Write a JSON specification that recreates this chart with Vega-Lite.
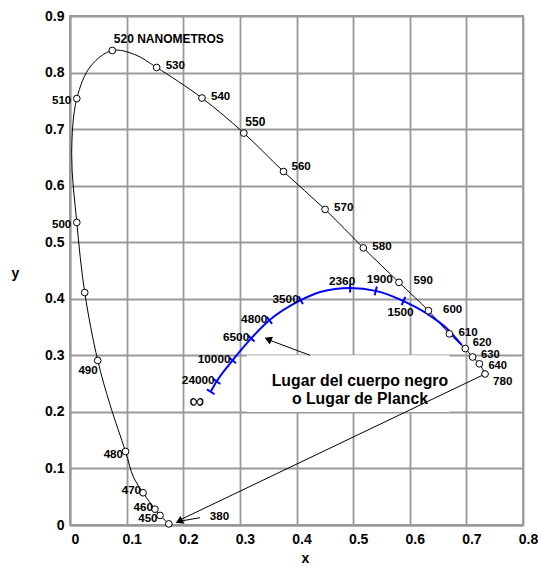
{
  "$schema": "https://vega.github.io/schema/vega-lite/v6.json",
  "width": 453,
  "height": 509,
  "autosize": {"type": "none"},
  "padding": {"left": 70, "top": 16, "right": 15, "bottom": 41},
  "background": "white",
  "config": {
    "font": "Liberation Sans",
    "view": {"stroke": "#999999", "strokeWidth": 1.8},
    "axis": {
      "grid": true, "gridColor": "#9a9a9a", "gridWidth": 1.8, "gridOpacity": 1,
      "domainColor": "#999999", "domainWidth": 1.8,
      "ticks": false, "tickSize": 0,
      "labelFont": "Liberation Sans", "labelFontWeight": "bold", "labelFontSize": 14, "labelColor": "#000000",
      "labelFlush": false, "labelOverlap": false,
      "titleFont": "Liberation Sans", "titleFontWeight": "bold", "titleFontSize": 14, "titleColor": "#000000"
    }
  },
  "datasets": {
    "locus": [
      {"nm": 380, "x": 0.1745, "y": 0.002, "label": "380"},
      {"nm": 450, "x": 0.159, "y": 0.017, "label": "450"},
      {"nm": 460, "x": 0.150, "y": 0.028, "label": "460"},
      {"nm": 470, "x": 0.129, "y": 0.057, "label": "470"},
      {"nm": 475, "x": 0.112, "y": 0.085},
      {"nm": 480, "x": 0.098, "y": 0.130, "label": "480"},
      {"nm": 485, "x": 0.0706, "y": 0.213},
      {"nm": 490, "x": 0.049, "y": 0.291, "label": "490"},
      {"nm": 495, "x": 0.026, "y": 0.411},
      {"nm": 500, "x": 0.012, "y": 0.535, "label": "500"},
      {"nm": 505, "x": 0.003, "y": 0.655},
      {"nm": 510, "x": 0.012, "y": 0.754, "label": "510"},
      {"nm": 515, "x": 0.037, "y": 0.812},
      {"nm": 520, "x": 0.0747, "y": 0.839, "label": "520 NANOMETROS"},
      {"nm": 525, "x": 0.114, "y": 0.832},
      {"nm": 530, "x": 0.153, "y": 0.809, "label": "530"},
      {"nm": 540, "x": 0.233, "y": 0.755, "label": "540"},
      {"nm": 550, "x": 0.307, "y": 0.693, "label": "550"},
      {"nm": 560, "x": 0.377, "y": 0.625, "label": "560"},
      {"nm": 570, "x": 0.4505, "y": 0.558, "label": "570"},
      {"nm": 580, "x": 0.518, "y": 0.490, "label": "580"},
      {"nm": 590, "x": 0.581, "y": 0.429, "label": "590"},
      {"nm": 600, "x": 0.633, "y": 0.379, "label": "600"},
      {"nm": 610, "x": 0.670, "y": 0.338, "label": "610"},
      {"nm": 620, "x": 0.698, "y": 0.312, "label": "620"},
      {"nm": 630, "x": 0.711, "y": 0.297, "label": "630"},
      {"nm": 640, "x": 0.723, "y": 0.285, "label": "640"},
      {"nm": 780, "x": 0.733, "y": 0.267, "label": "780"}
    ],
    "planck": [
      {"T": "∞", "x": 0.2485, "y": 0.2355},
      {"T": "24000", "x": 0.259, "y": 0.254},
      {"T": "10000", "x": 0.287, "y": 0.291},
      {"T": "6500", "x": 0.320, "y": 0.330},
      {"T": "4800", "x": 0.352, "y": 0.362},
      {"T": "3500", "x": 0.4075, "y": 0.3975},
      {"T": null, "x": 0.4417, "y": 0.412},
      {"T": "2360", "x": 0.4947, "y": 0.419},
      {"T": "1900", "x": 0.540, "y": 0.414},
      {"T": "1500", "x": 0.589, "y": 0.396},
      {"T": null, "x": 0.630, "y": 0.374},
      {"T": null, "x": 0.6655, "y": 0.3475},
      {"T": null, "x": 0.692, "y": 0.318}
    ],
    "notebox": [{"x": 0.312, "x2": 0.67, "y": 0.2, "y2": 0.3}],
    "notetext": [{"x": 0.512, "y": 0.255, "text": "Lugar del cuerpo negro\no Lugar de Planck"}],
    "arrows": [
      {"x": 0.733, "y": 0.267, "x2": 0.19, "y2": 0.007},
      {"x": 0.2296, "y": 0.0129, "x2": 0.19, "y2": 0.006},
      {"x": 0.424, "y": 0.300, "x2": 0.352, "y2": 0.327}
    ],
    "heads": [
      {"id": "380", "x": 0.1925, "y": 0.0065},
      {"id": "planck", "x": 0.3497, "y": 0.3285}
    ]
  },
  "encoding": {
    "x": {
      "field": "x", "type": "quantitative",
      "scale": {"domain": [0, 0.8], "nice": false, "zero": false},
      "axis": {"values": [0, 0.1, 0.2, 0.3, 0.4, 0.5, 0.6, 0.7, 0.8], "format": ".1~f", "title": "x",
               "labelOffset": 5, "labelPadding": 7, "titleX": 235, "titleY": 33, "titleAlign": "center", "titleBaseline": "middle"}
    },
    "y": {
      "field": "y", "type": "quantitative",
      "scale": {"domain": [0, 0.9], "nice": false, "zero": false},
      "axis": {"values": [0, 0.1, 0.2, 0.3, 0.4, 0.5, 0.6, 0.7, 0.8, 0.9], "format": ".1~f", "title": "y",
               "labelPadding": 6, "titleAngle": 0, "titleX": -55, "titleY": 257, "titleAlign": "center", "titleBaseline": "middle"}
    }
  },
  "layer": [
    {"data": {"name": "notebox"}, "mark": {"type": "rect", "fill": "white"},
     "encoding": {"x2": {"field": "x2"}, "y2": {"field": "y2"}}},
    {"data": {"name": "locus"}, "mark": {"type": "line", "color": "black", "strokeWidth": 1, "interpolate": "catmull-rom"},
     "encoding": {"order": {"field": "nm", "type": "quantitative"}}},
    {"data": {"name": "arrows"}, "mark": {"type": "rule", "color": "black", "strokeWidth": 1},
     "encoding": {"x2": {"field": "x2"}, "y2": {"field": "y2"}}},
    {"data": {"name": "planck"}, "mark": {"type": "line", "color": "#0000ff", "strokeWidth": 2, "interpolate": "monotone"},
     "encoding": {}},
    {"data": {"name": "planck"}, "transform": [{"filter": "datum.T != null"}],
     "mark": {"type": "point", "shape": "stroke", "filled": false, "stroke": "#0000ff", "strokeWidth": 2, "size": 81, "opacity": 1},
     "encoding": {"angle": {"condition": [
        {"test": "datum.T == '∞'", "value": 33},
        {"test": "datum.T == '24000'", "value": 36},
        {"test": "datum.T == '10000'", "value": 40},
        {"test": "datum.T == '6500'", "value": 44},
        {"test": "datum.T == '4800'", "value": 52},
        {"test": "datum.T == '3500'", "value": 61},
        {"test": "datum.T == '1900'", "value": 104},
        {"test": "datum.T == '1500'", "value": 114}
     ], "value": 90}}},
    {"data": {"name": "locus"}, "transform": [{"filter": {"field": "nm", "oneOf": [380,450,460,470,480,490,495,500,510,520,530,540,550,560,570,580,590,600,610,620,630,640,780]}}],
     "mark": {"type": "point", "shape": "circle", "filled": true, "fill": "white", "stroke": "black", "strokeWidth": 1, "size": 45, "opacity": 1},
     "encoding": {}},
    {"data": {"name": "heads"}, "mark": {"type": "point", "shape": "triangle-left", "filled": true, "color": "black", "size": 70, "opacity": 1},
     "encoding": {"angle": {"condition": {"test": "datum.id == 'planck'", "value": 22}, "value": -26}}},
    {"data": {"name": "notetext"}, "mark": {"type": "text", "fontSize": 15.8, "fontWeight": "bold", "lineBreak": "\n", "lineHeight": 18, "align": "center", "baseline": "middle", "color": "black"},
     "encoding": {"text": {"field": "text"}}},
    {"data": {"name": "locus"}, "transform": [{"filter": {"field": "nm", "oneOf": [530,540,570,580,610]}}],
     "mark": {"type": "text", "fontSize": 11.6, "fontWeight": "bold", "align": "left", "baseline": "middle", "dx": 9, "dy": -1, "color": "black"},
     "encoding": {"text": {"field": "label"}}},
    {"data": {"name": "locus"}, "transform": [{"filter": {"field": "nm", "oneOf": [620]}}],
     "mark": {"type": "text", "fontSize": 11.2, "fontWeight": "bold", "align": "left", "baseline": "middle", "dx": 7.5, "dy": -5.5, "color": "black"},
     "encoding": {"text": {"field": "label"}}},
    {"data": {"name": "locus"}, "transform": [{"filter": {"field": "nm", "oneOf": [630]}}],
     "mark": {"type": "text", "fontSize": 11.2, "fontWeight": "bold", "align": "left", "baseline": "middle", "dx": 8.5, "dy": -2.5, "color": "black"},
     "encoding": {"text": {"field": "label"}}},
    {"data": {"name": "locus"}, "transform": [{"filter": {"field": "nm", "oneOf": [640]}}],
     "mark": {"type": "text", "fontSize": 11.2, "fontWeight": "bold", "align": "left", "baseline": "middle", "dx": 9, "dy": 2.5, "color": "black"},
     "encoding": {"text": {"field": "label"}}},
    {"data": {"name": "locus"}, "transform": [{"filter": {"field": "nm", "oneOf": [560]}}],
     "mark": {"type": "text", "fontSize": 11.6, "fontWeight": "bold", "align": "left", "baseline": "middle", "dx": 8, "dy": -5, "color": "black"},
     "encoding": {"text": {"field": "label"}}},
    {"data": {"name": "locus"}, "transform": [{"filter": {"field": "nm", "oneOf": [520,550]}}],
     "mark": {"type": "text", "fontSize": 12, "fontWeight": "bold", "align": "left", "baseline": "middle", "dx": 1.5, "dy": -11.5, "color": "black"},
     "encoding": {"text": {"field": "label"}}},
    {"data": {"name": "locus"}, "transform": [{"filter": {"field": "nm", "oneOf": [590,600]}}],
     "mark": {"type": "text", "fontSize": 11.6, "fontWeight": "bold", "align": "left", "baseline": "middle", "dx": 14.5, "dy": -1, "color": "black"},
     "encoding": {"text": {"field": "label"}}},
    {"data": {"name": "locus"}, "transform": [{"filter": {"field": "nm", "oneOf": [780]}}],
     "mark": {"type": "text", "fontSize": 11.6, "fontWeight": "bold", "align": "left", "baseline": "middle", "dx": 8, "dy": 8, "color": "black"},
     "encoding": {"text": {"field": "label"}}},
    {"data": {"name": "locus"}, "transform": [{"filter": {"field": "nm", "oneOf": [510,500]}}],
     "mark": {"type": "text", "fontSize": 11.6, "fontWeight": "bold", "align": "right", "baseline": "middle", "dx": -5.5, "dy": 2.5, "color": "black"},
     "encoding": {"text": {"field": "label"}}},
    {"data": {"name": "locus"}, "transform": [{"filter": {"field": "nm", "oneOf": [480,450]}}],
     "mark": {"type": "text", "fontSize": 11.6, "fontWeight": "bold", "align": "right", "baseline": "middle", "dx": -2.5, "dy": 4, "color": "black"},
     "encoding": {"text": {"field": "label"}}},
    {"data": {"name": "locus"}, "transform": [{"filter": {"field": "nm", "oneOf": [470,460]}}],
     "mark": {"type": "text", "fontSize": 11.6, "fontWeight": "bold", "align": "right", "baseline": "middle", "dx": -2, "dy": -1.5, "color": "black"},
     "encoding": {"text": {"field": "label"}}},
    {"data": {"name": "locus"}, "transform": [{"filter": {"field": "nm", "oneOf": [490]}}],
     "mark": {"type": "text", "fontSize": 11.6, "fontWeight": "bold", "align": "right", "baseline": "middle", "dx": 0, "dy": 11, "color": "black"},
     "encoding": {"text": {"field": "label"}}},
    {"data": {"name": "locus"}, "transform": [{"filter": {"field": "nm", "oneOf": [380]}}],
     "mark": {"type": "text", "fontSize": 11.6, "fontWeight": "bold", "align": "left", "baseline": "middle", "dx": 41, "dy": -6.5, "color": "black"},
     "encoding": {"text": {"field": "label"}}},
    {"data": {"name": "planck"}, "transform": [{"filter": {"field": "T", "oneOf": ["24000","10000","6500","4800","3500"]}}],
     "mark": {"type": "text", "fontSize": 11.8, "fontWeight": "bold", "align": "right", "baseline": "middle", "dx": -2, "dy": -1, "color": "black"},
     "encoding": {"text": {"field": "T"}}},
    {"data": {"name": "planck"}, "transform": [{"filter": {"field": "T", "oneOf": ["2360"]}}],
     "mark": {"type": "text", "fontSize": 11.8, "fontWeight": "bold", "align": "center", "baseline": "middle", "dx": -8, "dy": -7, "color": "black"},
     "encoding": {"text": {"field": "T"}}},
    {"data": {"name": "planck"}, "transform": [{"filter": {"field": "T", "oneOf": ["1900"]}}],
     "mark": {"type": "text", "fontSize": 11.8, "fontWeight": "bold", "align": "center", "baseline": "middle", "dx": 4, "dy": -12, "color": "black"},
     "encoding": {"text": {"field": "T"}}},
    {"data": {"name": "planck"}, "transform": [{"filter": {"field": "T", "oneOf": ["1500"]}}],
     "mark": {"type": "text", "fontSize": 11.8, "fontWeight": "bold", "align": "center", "baseline": "middle", "dx": -3, "dy": 11, "color": "black"},
     "encoding": {"text": {"field": "T"}}},
    {"data": {"name": "planck"}, "transform": [{"filter": {"field": "T", "oneOf": ["∞"]}}],
     "mark": {"type": "text", "fontSize": 21, "fontWeight": "normal", "align": "center", "baseline": "middle", "dx": -14, "dy": 10, "color": "black"},
     "encoding": {"text": {"field": "T"}}}
  ]
}
